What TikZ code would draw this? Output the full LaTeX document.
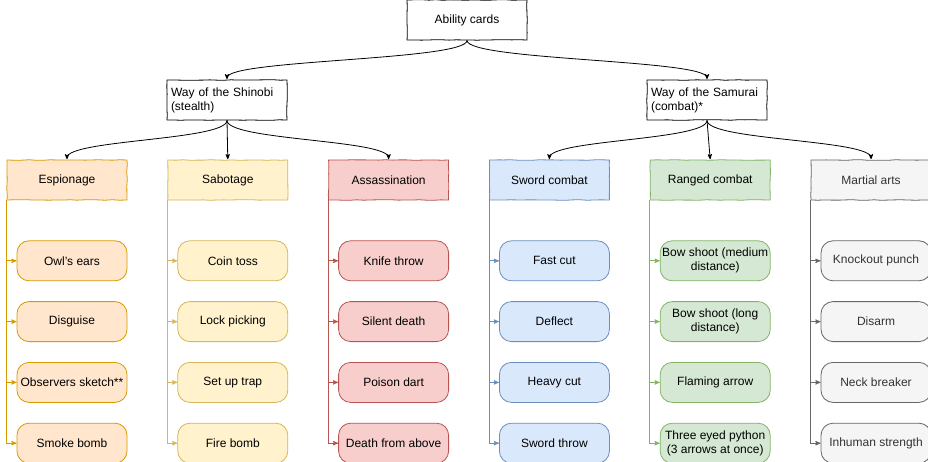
\documentclass[tikz,border=0pt]{standalone}
\usepackage{fontspec}
\setmainfont{Liberation Sans}
\usepackage{tikz}
\usetikzlibrary{arrows,positioning,decorations.pathmorphing}
\usepackage{xcolor}

\definecolor{orangefill}{HTML}{FFE6CC}
\definecolor{orangeline}{HTML}{D79B00}
\definecolor{yellowfill}{HTML}{FFF2CC}
\definecolor{yellowline}{HTML}{D6B656}
\definecolor{redfill}{HTML}{F8CECC}
\definecolor{redline}{HTML}{B85450}
\definecolor{bluefill}{HTML}{DAE8FC}
\definecolor{blueline}{HTML}{6C8EBF}
\definecolor{greenfill}{HTML}{D5E8D4}
\definecolor{greenline}{HTML}{82B366}
\definecolor{grayfill}{HTML}{F5F5F5}
\definecolor{grayline}{HTML}{666666}
\definecolor{graytext}{HTML}{333333}

\hyphenpenalty 10000\relax

\begin{document}
\pgfmathsetseed{7}
\begin{tikzpicture}[
	  x=1pt,y=1pt,
	  every node/.style={align=center,text=black,inner sep=2pt,font=\fontsize{12}{14}\selectfont},
	  sketch/.style={decorate,decoration={random steps,segment length=7pt,amplitude=0.3pt}},
	  root/.style={draw=black,fill=white,line width=0.8pt,sketch,minimum width=120pt,minimum height=40pt},
	  way/.style={root,align=left,text width=112pt},
	  group/.style 2 args={root,fill=#1,draw=#2},
	  skill/.style 2 args={draw=#2,fill=#1,line width=0.8pt,rounded corners=12pt,minimum width=110pt,minimum height=40pt},
	  to/.style={->,>=stealth',shorten >=0.5pt,draw=black,line width=0.8pt},
	  side/.style={->,>=stealth',draw=#1,line width=0.9pt}]

	  \useasboundingbox (0,0) rectangle (928,-462);

	  % Top of the tree
	  \node[root] (cards) at (467,-20) {Ability cards};
	  \node[way] (shinobi) at (227,-100) {Way of the Shinobi\\(stealth)};
	  \node[way] (samurai) at (707,-100) {Way of the Samurai\\(combat)*};

	  % Groups of cards
	  \node[group={orangefill}{orangeline}] (espionage) at (67,-180) {Espionage};
	  \node[group={yellowfill}{yellowline}, right=40pt of espionage] (sabotage) {Sabotage};
	  \node[group={redfill}{redline}, right=40pt of sabotage] (assassination) {Assassination};
	  \node[group={bluefill}{blueline}, right=40pt of assassination] (sword) {Sword combat};
	  \node[group={greenfill}{greenline}, right=40pt of sword] (ranged) {Ranged combat};
	  \node[group={grayfill}{grayline}, right=40pt of ranged, text=graytext] (martial) {Martial arts};

	  % Espionage
	  \node[skill={orangefill}{orangeline}, below=40pt of espionage.south east, anchor=north east] (owl) {Owl's ears};
	  \node[skill={orangefill}{orangeline}, below=20pt of owl] (disguise) {Disguise};
	  \node[skill={orangefill}{orangeline}, below=20pt of disguise] (observers) {Observers sketch**};
	  \node[skill={orangefill}{orangeline}, below=20pt of observers] (smoke) {Smoke bomb};

	  % Sabotage
	  \node[skill={yellowfill}{yellowline}, below=40pt of sabotage.south east, anchor=north east] (coin) {Coin toss};
	  \node[skill={yellowfill}{yellowline}, below=20pt of coin] (lock) {Lock picking};
	  \node[skill={yellowfill}{yellowline}, below=20pt of lock] (trap) {Set up trap};
	  \node[skill={yellowfill}{yellowline}, below=20pt of trap] (firebomb) {Fire bomb};

	  % Assassination
	  \node[skill={redfill}{redline}, below=40pt of assassination.south east, anchor=north east] (knife) {Knife throw};
	  \node[skill={redfill}{redline}, below=20pt of knife] (silent) {Silent death};
	  \node[skill={redfill}{redline}, below=20pt of silent] (dart) {Poison dart};
	  \node[skill={redfill}{redline}, below=20pt of dart] (above) {Death from above};

	  % Sword combat
	  \node[skill={bluefill}{blueline}, below=40pt of sword.south east, anchor=north east] (fastcut) {Fast cut};
	  \node[skill={bluefill}{blueline}, below=20pt of fastcut] (deflect) {Deflect};
	  \node[skill={bluefill}{blueline}, below=20pt of deflect] (heavycut) {Heavy cut};
	  \node[skill={bluefill}{blueline}, below=20pt of heavycut] (swordthrow) {Sword throw};

	  % Ranged combat
	  \node[skill={greenfill}{greenline}, below=40pt of ranged.south east, anchor=north east] (medium) {Bow shoot (medium\\distance)};
	  \node[skill={greenfill}{greenline}, below=20pt of medium] (long) {Bow shoot (long\\distance)};
	  \node[skill={greenfill}{greenline}, below=20pt of long] (flaming) {Flaming arrow};
	  \node[skill={greenfill}{greenline}, below=20pt of flaming] (python) {Three eyed python\\(3 arrows at once)};

	  % Martial arts
	  \node[skill={grayfill}{grayline}, text=graytext, below=40pt of martial.south east, anchor=north east] (knockout) {Knockout punch};
	  \node[skill={grayfill}{grayline}, text=graytext, below=20pt of knockout] (disarm) {Disarm};
	  \node[skill={grayfill}{grayline}, text=graytext, below=20pt of disarm] (neck) {Neck breaker};
	  \node[skill={grayfill}{grayline}, text=graytext, below=20pt of neck] (inhuman) {Inhuman strength};

	  % Tree connectors
	  \draw[to] (cards.south) .. controls +(0,-20) and +(0,20) .. (shinobi.north);
	  \draw[to] (cards.south) .. controls +(0,-20) and +(0,20) .. (samurai.north);
	  \draw[to] (shinobi.south) .. controls +(0,-20) and +(0,20) .. (espionage.north);
	  \draw[to] (shinobi.south) -- (sabotage.north);
	  \draw[to] (shinobi.south) .. controls +(0,-20) and +(0,20) .. (assassination.north);
	  \draw[to] (samurai.south) .. controls +(0,-20) and +(0,20) .. (sword.north);
	  \draw[to] (samurai.south) -- (ranged.north);
	  \draw[to] (samurai.south) .. controls +(0,-20) and +(0,20) .. (martial.north);

	  % Side connectors
	  \draw[side=orangeline] (espionage.south west) |- (owl.west);
	  \draw[side=orangeline] (espionage.south west) |- (disguise.west);
	  \draw[side=orangeline] (espionage.south west) |- (observers.west);
	  \draw[side=orangeline] (espionage.south west) |- (smoke.west);
	  \draw[side=yellowline] (sabotage.south west) |- (coin.west);
	  \draw[side=yellowline] (sabotage.south west) |- (lock.west);
	  \draw[side=yellowline] (sabotage.south west) |- (trap.west);
	  \draw[side=yellowline] (sabotage.south west) |- (firebomb.west);
	  \draw[side=redline] (assassination.south west) |- (knife.west);
	  \draw[side=redline] (assassination.south west) |- (silent.west);
	  \draw[side=redline] (assassination.south west) |- (dart.west);
	  \draw[side=redline] (assassination.south west) |- (above.west);
	  \draw[side=blueline] (sword.south west) |- (fastcut.west);
	  \draw[side=blueline] (sword.south west) |- (deflect.west);
	  \draw[side=blueline] (sword.south west) |- (heavycut.west);
	  \draw[side=blueline] (sword.south west) |- (swordthrow.west);
	  \draw[side=greenline] (ranged.south west) |- (medium.west);
	  \draw[side=greenline] (ranged.south west) |- (long.west);
	  \draw[side=greenline] (ranged.south west) |- (flaming.west);
	  \draw[side=greenline] (ranged.south west) |- (python.west);
	  \draw[side=grayline] (martial.south west) |- (knockout.west);
	  \draw[side=grayline] (martial.south west) |- (disarm.west);
	  \draw[side=grayline] (martial.south west) |- (neck.west);
	  \draw[side=grayline] (martial.south west) |- (inhuman.west);

\end{tikzpicture}
\end{document}
